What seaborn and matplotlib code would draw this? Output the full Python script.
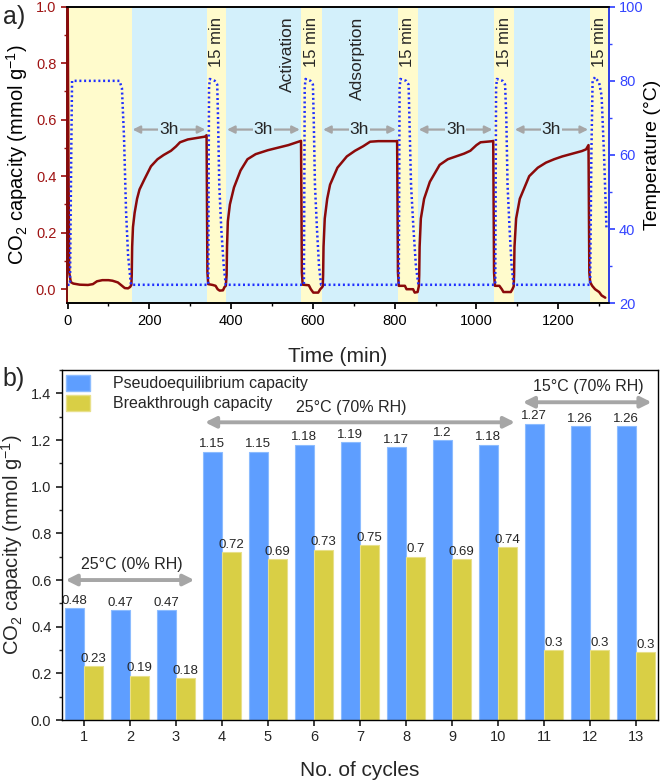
import matplotlib
matplotlib.use("Agg")
import matplotlib.pyplot as plt
import seaborn as sns
import pandas as pd
from matplotlib.patches import Patch
from matplotlib.ticker import MultipleLocator

# ---------------- data : panel a ----------------
time_min = [0, 2, 4, 8, 14, 30, 50, 62, 72, 85, 100, 110, 123, 133, 140, 148, 153, 156,
            157, 158, 160, 164, 170, 176, 188, 204, 220, 235, 253, 265, 275, 294, 315, 336, 340,
            341, 342, 344, 355, 362, 367, 372, 380, 384, 387,
            389, 390, 392, 397, 407, 423, 440, 460, 490, 512, 540, 569, 571,
            572, 573, 575, 590, 595, 601, 613, 618, 622, 624,
            625, 626, 629, 635, 642, 660, 683, 703, 723, 740, 760, 805, 806,
            807, 808, 810, 825, 829, 845, 849, 856, 859,
            860, 861, 864, 872, 886, 910, 930, 950, 970, 985, 1000, 1010, 1040, 1041,
            1042, 1043, 1045, 1056, 1062, 1066, 1084, 1088, 1091,
            1092, 1093, 1097, 1106, 1129, 1150, 1170, 1190, 1210, 1235, 1258, 1268, 1272, 1274,
            1275, 1276, 1278, 1283, 1290, 1300, 1306, 1315]
co2_capacity = [1.10, 0.50, 0.06, 0.025, 0.02, 0.016, 0.015, 0.018, 0.028, 0.032, 0.032, 0.03, 0.024, 0.012, 0.004, 0.003, 0.008, 0.015,
                0.05, 0.15, 0.22, 0.27, 0.32, 0.353, 0.389, 0.435, 0.46, 0.475, 0.49, 0.505, 0.52, 0.53, 0.535, 0.54, 0.545,
                0.30, 0.06, 0.018, 0.015, 0.012, 0.0, -0.005, -0.004, 0.008, 0.012,
                0.05, 0.15, 0.24, 0.30, 0.36, 0.42, 0.46, 0.478, 0.492, 0.50, 0.51, 0.524, 0.525,
                0.30, 0.06, 0.016, 0.014, 0.0, -0.012, -0.012, 0.0, 0.006, 0.01,
                0.05, 0.15, 0.25, 0.32, 0.37, 0.43, 0.47, 0.49, 0.506, 0.522, 0.524, 0.524, 0.525,
                0.30, 0.06, 0.012, 0.012, 0.0, 0.0, -0.012, -0.01, 0.01,
                0.05, 0.15, 0.25, 0.32, 0.38, 0.44, 0.46, 0.47, 0.48, 0.49, 0.51, 0.52, 0.524, 0.525,
                0.30, 0.06, 0.012, 0.012, 0.0, -0.01, -0.01, 0.0, 0.01,
                0.05, 0.15, 0.25, 0.32, 0.40, 0.43, 0.448, 0.46, 0.47, 0.48, 0.489, 0.495, 0.505, 0.51,
                0.30, 0.06, 0.025, 0.012, 0.0, -0.01, -0.022, -0.03]

temp_time = [0, 6, 9, 11, 127, 133, 138, 143, 148, 155,
             344, 346, 348, 360, 366, 368, 371, 376, 382, 387,
             578, 580, 582, 594, 600, 602, 605, 610, 615, 620,
             810, 812, 814, 828, 834, 836, 840, 846, 852, 858,
             1046, 1048, 1050, 1064, 1070, 1073, 1076, 1081, 1086, 1091,
             1278, 1281, 1284, 1290, 1300, 1306, 1312, 1318]
temperature = [25, 25, 60, 80, 80, 78, 65, 45, 33, 25,
               25, 78, 80.5, 80, 79, 70, 52, 40, 30, 25,
               25, 78, 80.5, 80, 79, 70, 52, 40, 30, 25,
               25, 78, 80.5, 80, 79, 70, 52, 40, 30, 25,
               25, 78, 80.5, 80, 79, 70, 52, 40, 30, 25,
               25, 60, 80, 81, 79.5, 76, 60, 40]

yellow_start = [0, 341, 572, 807, 1043, 1277]
yellow_end = [157, 388, 623, 857, 1092, 1327]

# ---------------- data : panel b ----------------
cycles = ["1", "2", "3", "4", "5", "6", "7", "8", "9", "10", "11", "12", "13"]
pseudo = [0.48, 0.47, 0.47, 1.15, 1.15, 1.18, 1.19, 1.17, 1.20, 1.18, 1.27, 1.26, 1.26]
breakthrough = [0.23, 0.19, 0.18, 0.72, 0.69, 0.73, 0.75, 0.70, 0.69, 0.74, 0.30, 0.30, 0.29]
pseudo_labels = ["0.48", "0.47", "0.47", "1.15", "1.15", "1.18", "1.19", "1.17", "1.2", "1.18", "1.27", "1.26", "1.26"]
break_labels = ["0.23", "0.19", "0.18", "0.72", "0.69", "0.73", "0.75", "0.7", "0.69", "0.74", "0.3", "0.3", "0.3"]
series_names = ["Pseudoequilibrium capacity", "Breakthrough capacity"]

# ---------------- style ----------------
sns.set_theme(style="ticks")
plt.rcParams["font.family"] = ["Liberation Sans", "DejaVu Sans"]
plt.rcParams["mathtext.fontset"] = "custom"
plt.rcParams["mathtext.rm"] = "Liberation Sans"
plt.rcParams["mathtext.it"] = "Liberation Sans:italic"
plt.rcParams["mathtext.default"] = "regular"

RED = "#8b0a0a"
RED_TXT = "#a01414"
BLUE_LINE = "#1f2fff"
BLUE_TXT = "#3344ff"
YEL_BG = "#fffbcc"
BLU_BG = "#d3f0fb"
GRAY = "#a6a6a6"
BAR_BLUE = "#5e9eff"
BAR_YEL = "#d9cf45"
LABEL_FS = 14.5

fig = plt.figure(figsize=(6.64, 7.84), dpi=100)
ax1 = fig.add_axes([0.1005, 0.6131, 0.8172, 0.3784])
ax2 = fig.add_axes([0.0929, 0.0816, 0.8985, 0.4464])

# ---------------- panel a ----------------
xmax = yellow_end[-1]
ax1.axvspan(0, xmax, color=BLU_BG, lw=0, zorder=0)
for s, e in zip(yellow_start, yellow_end):
    ax1.axvspan(s, e, color=YEL_BG, lw=0, zorder=0)

sns.lineplot(x=time_min, y=co2_capacity, ax=ax1, color=RED, lw=1.8,
             sort=False, estimator=None, zorder=3)
ax1t = ax1.twinx()
sns.lineplot(x=temp_time, y=temperature, ax=ax1t, color=BLUE_LINE, lw=1.8,
             linestyle=(0, (0.8, 1.1)), sort=False, estimator=None, zorder=2)

ax1.set_xlim(-2, 1325)
ax1.set_ylim(-0.05, 1.0)
ax1t.set_ylim(20, 100)
ax1.xaxis.set_major_locator(MultipleLocator(200))
ax1.xaxis.set_minor_locator(MultipleLocator(100))
ax1.yaxis.set_major_locator(MultipleLocator(0.2))
ax1.yaxis.set_minor_locator(MultipleLocator(0.1))
ax1t.yaxis.set_major_locator(MultipleLocator(20))
ax1t.yaxis.set_minor_locator(MultipleLocator(10))
ax1.yaxis.set_major_formatter(matplotlib.ticker.FormatStrFormatter("%.1f"))

ax1.tick_params(axis="x", which="both", direction="out", labelsize=10.5, colors="black")
ax1.tick_params(axis="x", which="major", length=4)
ax1.tick_params(axis="x", which="minor", length=2.5)
ax1.tick_params(axis="y", which="both", direction="out", colors=RED_TXT, labelsize=10.5)
ax1.tick_params(axis="y", which="major", length=4)
ax1.tick_params(axis="y", which="minor", length=2.5)
ax1t.tick_params(axis="y", which="both", direction="out", colors=BLUE_TXT, labelsize=10.5, pad=3)
ax1t.tick_params(axis="y", which="major", length=4)
ax1t.tick_params(axis="y", which="minor", length=2.5)
ax1t.spines["right"].set_color(BLUE_TXT)
ax1t.spines["left"].set_color(RED)
for sp in ["top", "bottom"]:
    ax1t.spines[sp].set_color("black")

ax1.set_xlabel("Time (min)", fontsize=LABEL_FS + 0.5, labelpad=14)
ax1.set_ylabel("CO$_2$ capacity (mmol g$^{-1}$)", fontsize=LABEL_FS, labelpad=4, color="black")
ax1t.set_ylabel("Temperature (°C)", fontsize=14, labelpad=0, color="black")

# 3h arrows
for i in range(len(yellow_start) - 1):
    a0 = yellow_end[i] + 2
    a1 = yellow_start[i + 1] - 4
    ax1.annotate("", xy=(a0, 0.565), xytext=(a1, 0.565),
                 arrowprops=dict(arrowstyle="<|-|>", color=GRAY, lw=1.6,
                                 mutation_scale=11, shrinkA=0, shrinkB=0), zorder=4)
    ax1.text((a0 + a1) / 2, 0.565, "3h", fontsize=12.5, ha="center", va="center",
             zorder=5, bbox=dict(facecolor=BLU_BG, edgecolor="none", pad=0.6))
for s, e in zip(yellow_start[1:], yellow_end[1:]):
    ax1.text((s + e) / 2, 0.965, "15 min", rotation=90, fontsize=12,
             ha="center", va="top", zorder=5)
ax1.text(538, 0.965, "Activation", rotation=90, fontsize=12.5, ha="center", va="top", zorder=5)
ax1.text(709, 0.965, "Adsorption", rotation=90, fontsize=12.5, ha="center", va="top", zorder=5)

# ---------------- panel b ----------------
df = pd.DataFrame({
    "cycle": cycles * 2,
    "capacity": pseudo + breakthrough,
    "series": [series_names[0]] * len(cycles) + [series_names[1]] * len(cycles),
})
sns.barplot(data=df, x="cycle", y="capacity", hue="series", order=cycles,
            hue_order=series_names, palette=[BAR_BLUE, BAR_YEL], saturation=1,
            width=0.84, gap=0, legend=False, ax=ax2, zorder=2)
edge_cols = ["#8cbcff", "#e8e08a"]
for cont, ec, labs in zip(ax2.containers, edge_cols, [pseudo_labels, break_labels]):
    for b in cont:
        b.set_edgecolor(ec)
        b.set_linewidth(0.8)
    ax2.bar_label(cont, labels=labs, padding=1, fontsize=9.5)

ax2.set_xlim(-0.485, 12.485)
ax2.set_ylim(0, 1.5)
ax2.yaxis.set_major_locator(MultipleLocator(0.2))
ax2.yaxis.set_minor_locator(MultipleLocator(0.1))
ax2.yaxis.set_major_formatter(matplotlib.ticker.FormatStrFormatter("%.1f"))
ax2.tick_params(axis="both", which="both", direction="out", labelsize=10.5)
ax2.tick_params(axis="both", which="major", length=4)
ax2.tick_params(axis="y", which="minor", length=2.5)
ax2.set_xlabel("No. of cycles", fontsize=LABEL_FS + 0.5, labelpad=12)
ax2.set_ylabel("CO$_2$ capacity (mmol g$^{-1}$)", fontsize=LABEL_FS, labelpad=4)
for sp in ax2.spines.values():
    sp.set_color("black")
    sp.set_linewidth(1.0)

handles = [Patch(facecolor=BAR_BLUE, edgecolor="#8cbcff"), Patch(facecolor=BAR_YEL, edgecolor="#e8e08a")]
ax2.legend(handles, series_names, loc="upper left", frameon=False, fontsize=11.5,
           handlelength=1.5, handleheight=1.2, handletextpad=1.4, labelspacing=0.2,
           borderaxespad=0.2, borderpad=0.1)

arrow_kw = dict(arrowstyle="<|-|>", color=GRAY, lw=2.8, mutation_scale=16, shrinkA=0, shrinkB=0)
ax2.annotate("", xy=(-0.4, 0.60), xytext=(2.4, 0.60), arrowprops=arrow_kw)
ax2.text(1.03, 0.665, "25°C (0% RH)", fontsize=11.5, ha="center", va="center")
ax2.annotate("", xy=(2.63, 1.276), xytext=(9.37, 1.276), arrowprops=arrow_kw)
ax2.text(5.82, 1.34, "25°C (70% RH)", fontsize=11.5, ha="center", va="center")
ax2.annotate("", xy=(9.54, 1.362), xytext=(12.34, 1.362), arrowprops=arrow_kw)
ax2.text(10.96, 1.43, "15°C (70% RH)", fontsize=11.5, ha="center", va="center")

fig.text(0.004, 0.993, "a)", fontsize=18, va="top", ha="left")
fig.text(0.004, 0.532, "b)", fontsize=18, va="top", ha="left")

fig.savefig("out.png", dpi=100)
